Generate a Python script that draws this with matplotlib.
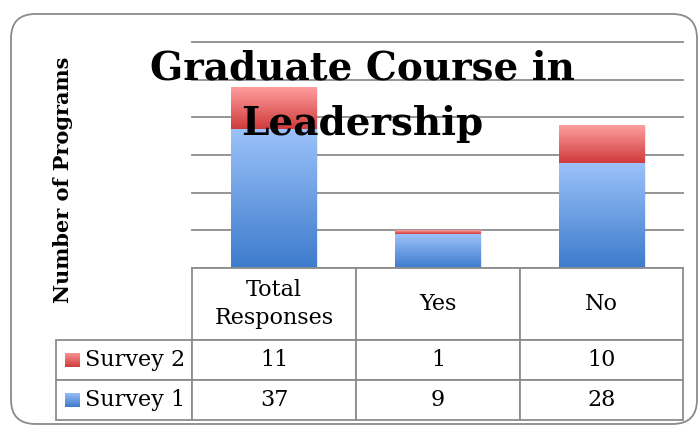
import numpy as np
import matplotlib.pyplot as plt
from matplotlib.patches import FancyBboxPatch
from matplotlib.colors import LinearSegmentedColormap

categories = ['Total\nResponses', 'Yes', 'No']
survey1 = [37, 9, 28]
survey2 = [11, 1, 10]
series_names = ['Survey 2', 'Survey 1']

W, H = 699, 426
fig = plt.figure(figsize=(W / 100, H / 100), dpi=100)
fig.patch.set_facecolor('white')

serif = 'DejaVu Serif'

# rama rotunjita
frame = FancyBboxPatch((11 / W, 2 / H), (697 - 11) / W, (412 - 2) / H,
                       boxstyle='round,pad=0,rounding_size=0.035',
                       transform=fig.transFigure, fc='none', ec='#8a8a8a', lw=1.3,
                       mutation_aspect=W / H, zorder=-1)
fig.patches.append(frame)

ax = fig.add_axes([192 / W, (H - 268) / H, (683 - 192) / W, (268 - 42) / H])
ax.set_facecolor('none')

blue = LinearSegmentedColormap.from_list('b', ['#3d7bcc', '#9cc2fa'])
red = LinearSegmentedColormap.from_list('r', ['#cf3b3b', '#ff9e9e'])
grad = np.linspace(0, 1, 256).reshape(-1, 1)

x = np.arange(len(categories))
w = 0.52
for i in x:
    s1 = survey1[i]
    s2 = survey2[i]
    # umbra
    ax.bar(i + 0.012, s1 + s2, w, bottom=-0.4, color='#000000', alpha=0.08, zorder=1)
    ax.imshow(grad, cmap=blue, origin='lower', aspect='auto',
              extent=[i - w / 2, i + w / 2, 0, s1], zorder=2)
    ax.imshow(grad, cmap=red, origin='lower', aspect='auto',
              extent=[i - w / 2, i + w / 2, s1, s1 + s2], zorder=2)

ax.set_xlim(-0.5, 2.5)
ax.set_ylim(0, 60)
ax.set_yticks(np.arange(0, 61, 10))
ax.set_yticklabels([])
ax.set_xticks([])
ax.tick_params(length=0)
ax.grid(axis='y', color='#8c8c8c', lw=1.3, zorder=0)
for gl in ax.get_ygridlines():
    gl.set_clip_on(False)
ax.set_axisbelow(True)
for sp in ax.spines.values():
    sp.set_visible(False)

# tabel
tax = fig.add_axes([56 / W, (H - 420) / H, (683 - 56) / W, (420 - 268) / H])
tax.axis('off')
rows = [[''] + categories,
        [series_names[0]] + [str(v) for v in survey2],
        [series_names[1]] + [str(v) for v in survey1]]
tab = tax.table(cellText=rows, bbox=[0, 0, 1, 1], cellLoc='center')
tab.auto_set_font_size(False)
colw = [136, 164, 164, 163]
rowh = [72, 40, 40]
for (r, c), cell in tab.get_celld().items():
    cell.set_width(colw[c] / sum(colw))
    cell.set_height(rowh[r] / sum(rowh))
    cell.set_edgecolor('#8c8c8c')
    cell.set_linewidth(1.3)
    cell.get_text().set_fontfamily(serif)
    cell.get_text().set_fontsize(16)
    cell.get_text().set_linespacing(1.3)
    if c == 0:
        cell.get_text().set_ha('left')
        cell.PAD = 29 / 136
    if r == 0 and c == 0:
        cell.visible_edges = ''

# patratele legenda
for k, cm in enumerate([red, blue]):
    yc = [360, 400][k]
    lax = fig.add_axes([65 / W, (H - yc - 7.5) / H, 15 / W, 15 / H])
    lax.imshow(grad, cmap=cm, origin='lower', aspect='auto')
    lax.axis('off')

fig.text(362 / W, (H - 79) / H, 'Graduate Course in', ha='center', va='baseline',
         fontsize=28, fontweight='bold', family=serif)
fig.text(362 / W, (H - 135) / H, 'Leadership', ha='center', va='baseline',
         fontsize=28, fontweight='bold', family=serif)

fig.text(63 / W, (H - 180) / H, 'Number of Programs', rotation=90, ha='center', va='center',
         fontsize=15, fontweight='bold', family=serif)

fig.savefig('out.png', dpi=100)
